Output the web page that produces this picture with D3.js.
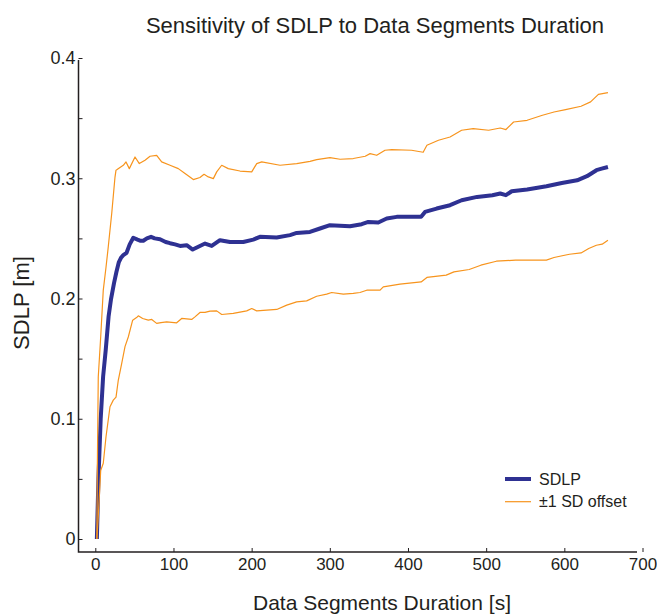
<!DOCTYPE html>
<html>
<head>
<meta charset="utf-8">
<script src="https://cdn.jsdelivr.net/npm/d3@7"></script>
<style>
  body { margin: 0; background: #fff; }
  svg { display: block; font-family: "Liberation Sans", Arial, sans-serif; }
</style>
</head>
<body>
<script>
// values: [segment duration (s), SDLP (m)]
const sdlp = [[2,0],[4,0.05],[6.9,0.1],[10,0.135],[13.3,0.157],[17,0.185],[20,0.199],[24,0.213],[27,0.222],[30,0.23],[33,0.234],[35.8,0.236],[40,0.238],[44,0.245],[48.6,0.2505],[54,0.249],[58,0.248],[61.4,0.248],[66,0.25],[71.3,0.2513],[76,0.25],[82.8,0.2493],[90,0.247],[95.6,0.246],[102,0.245],[108.4,0.2437],[116.9,0.2443],[124.6,0.2407],[131.8,0.243],[140.4,0.2457],[148.9,0.2437],[159.5,0.2485],[172.3,0.247],[189.3,0.247],[202.1,0.249],[210.6,0.2513],[232,0.2507],[249.1,0.2527],[257.6,0.2545],[274.6,0.2554],[287.4,0.2582],[300.2,0.261],[313,0.2605],[325.8,0.2601],[340.8,0.2618],[349.3,0.2637],[362,0.2632],[372.8,0.2665],[385.6,0.2679],[401.6,0.268],[416.8,0.2679],[421.8,0.272],[436.6,0.2748],[453.8,0.2776],[468.6,0.2817],[488.4,0.2845],[508,0.2859],[518,0.2873],[525.2,0.2859],[532.7,0.2892],[552.4,0.2906],[577.1,0.2934],[596.8,0.2961],[616.4,0.2983],[628.9,0.3017],[641.1,0.3067],[647.7,0.308],[655.8,0.3094]]

const sdUpper = [[2,0],[2.6,0.06],[3.8,0.135],[6.9,0.168],[10.2,0.207],[13.7,0.226],[16.6,0.243],[21,0.2707],[25.2,0.301],[26.5,0.3067],[27.4,0.307],[31.6,0.309],[35.8,0.3108],[39.3,0.3136],[43.5,0.308],[50.8,0.3177],[56.3,0.3122],[63.6,0.315],[70,0.3183],[78.5,0.3191],[84.9,0.3136],[95.6,0.3108],[106.2,0.308],[114.8,0.3039],[125.4,0.2989],[133.9,0.3006],[139.1,0.3033],[144.6,0.3011],[151,0.2997],[155.3,0.3053],[161.7,0.3108],[170.1,0.308],[185.1,0.306],[200.1,0.3053],[206.5,0.3122],[212.9,0.3136],[236.3,0.3108],[257.6,0.3122],[274.7,0.3141],[283.2,0.3155],[300.2,0.3172],[313.1,0.3158],[330,0.3164],[345.3,0.3183],[351.5,0.3205],[360,0.3191],[370.6,0.3233],[379.2,0.3238],[404.6,0.3233],[419.4,0.3216],[424.2,0.3274],[439,0.3316],[453.8,0.3343],[468.6,0.3399],[483.4,0.3413],[503.2,0.3399],[518,0.3418],[525.3,0.3405],[535.1,0.3468],[552.4,0.3482],[572,0.3524],[586.8,0.3551],[601.6,0.3571],[621.4,0.3599],[633.6,0.3635],[643.6,0.3698],[655.8,0.3712]]

const sdLower = [[2,0],[3.8,0.0185],[6.9,0.057],[10.2,0.063],[13.7,0.085],[18.8,0.11],[23,0.1155],[26.5,0.118],[29.4,0.132],[33.8,0.146],[38,0.16],[42.2,0.168],[47.8,0.182],[53.7,0.1847],[55,0.1856],[60.6,0.1834],[67.8,0.182],[72.2,0.1826],[78.5,0.1793],[84,0.18],[91.3,0.1806],[104.1,0.1798],[110.5,0.1834],[123.3,0.1826],[127.5,0.1847],[133.9,0.1884],[140.3,0.1884],[146.7,0.1895],[155.3,0.1897],[161.7,0.1867],[176.5,0.1876],[193.7,0.1897],[200.1,0.1917],[206.5,0.1897],[232.1,0.1909],[244.9,0.1945],[257.6,0.1972],[270.4,0.198],[283.2,0.2019],[296,0.2036],[302.4,0.205],[317.3,0.2036],[330,0.2042],[338.6,0.205],[347.2,0.2069],[364.3,0.2069],[368.4,0.2097],[389.8,0.2119],[416.8,0.2138],[424.2,0.2175],[448.9,0.2194],[458.8,0.2221],[478.3,0.2241],[493.2,0.2277],[513,0.231],[537.6,0.2319],[562.3,0.2319],[577.1,0.2319],[586.8,0.2341],[606.6,0.2368],[621.4,0.2379],[631.2,0.2416],[641,0.2443],[648.4,0.2452],[655.8,0.2485]]

const xTicks = [0, 100, 200, 300, 400, 500, 600, 700]
const yTicks = [0, 0.1, 0.2, 0.3, 0.4]
const yMinorTicks = [0.05, 0.15, 0.25, 0.35]
const legendLabels = ["SDLP", "\u00b11 SD offset"]

const width = 657
const height = 615
const blue = "#2e3192"
const orange = "#f7941d"

const svg = d3.select("body").append("svg")
    .attr("width", width)
    .attr("height", height)

const x = d3.scaleLinear().domain([0, 700]).range([95.3, 642.5])
const y = d3.scaleLinear().domain([0, 0.4]).range([539, 58])

const axisLeftX = 78.5
const axisBottomY = 552

// axis lines (box off, offset from the data like the original)
svg.append("path")
    .attr("d", `M${axisLeftX},60V${axisBottomY}H637`)
    .attr("fill", "none")
    .attr("stroke", "#231f20")
    .attr("stroke-width", 1.5)

const xAxis = svg.append("g")
    .attr("transform", `translate(0,${axisBottomY})`)
    .call(d3.axisBottom(x).tickValues(xTicks).tickFormat(d3.format("d"))
        .tickSizeInner(-4).tickSizeOuter(0).tickPadding(6))
xAxis.select(".domain").remove()
xAxis.selectAll(".tick text").style("font-size", "17px")

const yAxis = svg.append("g")
    .attr("transform", `translate(${axisLeftX},0)`)
    .call(d3.axisLeft(y).tickValues(yTicks).tickFormat(d => d === 0 ? "0" : d3.format(".1f")(d))
        .tickSizeInner(-4).tickSizeOuter(0).tickPadding(3))
yAxis.select(".domain").remove()
yAxis.selectAll(".tick text").style("font-size", "18px")

svg.append("g")
    .attr("transform", `translate(${axisLeftX},0)`)
    .call(d3.axisLeft(y).tickValues(yMinorTicks).tickFormat("")
        .tickSizeInner(-4).tickSizeOuter(0))
    .select(".domain").remove()

svg.selectAll(".tick line").attr("stroke", "#231f20")
svg.selectAll(".tick text")
    .attr("fill", "#231f20")
    .style("font-family", "Liberation Sans, Arial, sans-serif")

// series
const line = d3.line().x(d => x(d[0])).y(d => y(d[1]))

svg.append("path")
    .datum(sdlp)
    .attr("d", line)
    .attr("fill", "none")
    .attr("stroke", blue)
    .attr("stroke-width", 4)
    .attr("stroke-linejoin", "round")

;[sdUpper, sdLower].forEach(s => {
    svg.append("path")
        .datum(s)
        .attr("d", line)
        .attr("fill", "none")
        .attr("stroke", orange)
        .attr("stroke-width", 1.2)
        .attr("stroke-linejoin", "round")
})

// titles
svg.append("text")
    .attr("x", 375)
    .attr("y", 33)
    .attr("text-anchor", "middle")
    .attr("fill", "#231f20")
    .style("font-size", "22px")
    .text("Sensitivity of SDLP to Data Segments Duration")

svg.append("text")
    .attr("x", 382)
    .attr("y", 610)
    .attr("text-anchor", "middle")
    .attr("fill", "#231f20")
    .style("font-size", "21px")
    .text("Data Segments Duration [s]")

svg.append("text")
    .attr("transform", "translate(29,303) rotate(-90)")
    .attr("text-anchor", "middle")
    .attr("fill", "#231f20")
    .style("font-size", "22px")
    .text("SDLP [m]")

// legend
const legend = svg.append("g")
    .selectAll("g")
    .data(legendLabels)
    .enter()
    .append("g")
    .attr("transform", (d, i) => `translate(505,${479 + i * 22.7})`)

legend.append("line")
    .attr("x1", 0).attr("x2", 26)
    .attr("stroke", (d, i) => i === 0 ? blue : orange)
    .attr("stroke-width", (d, i) => i === 0 ? 4 : 1.2)

legend.append("text")
    .attr("x", 34)
    .attr("dy", "0.35em")
    .attr("fill", "#231f20")
    .style("font-size", "16px")
    .text(d => d)
</script>
</body>
</html>
